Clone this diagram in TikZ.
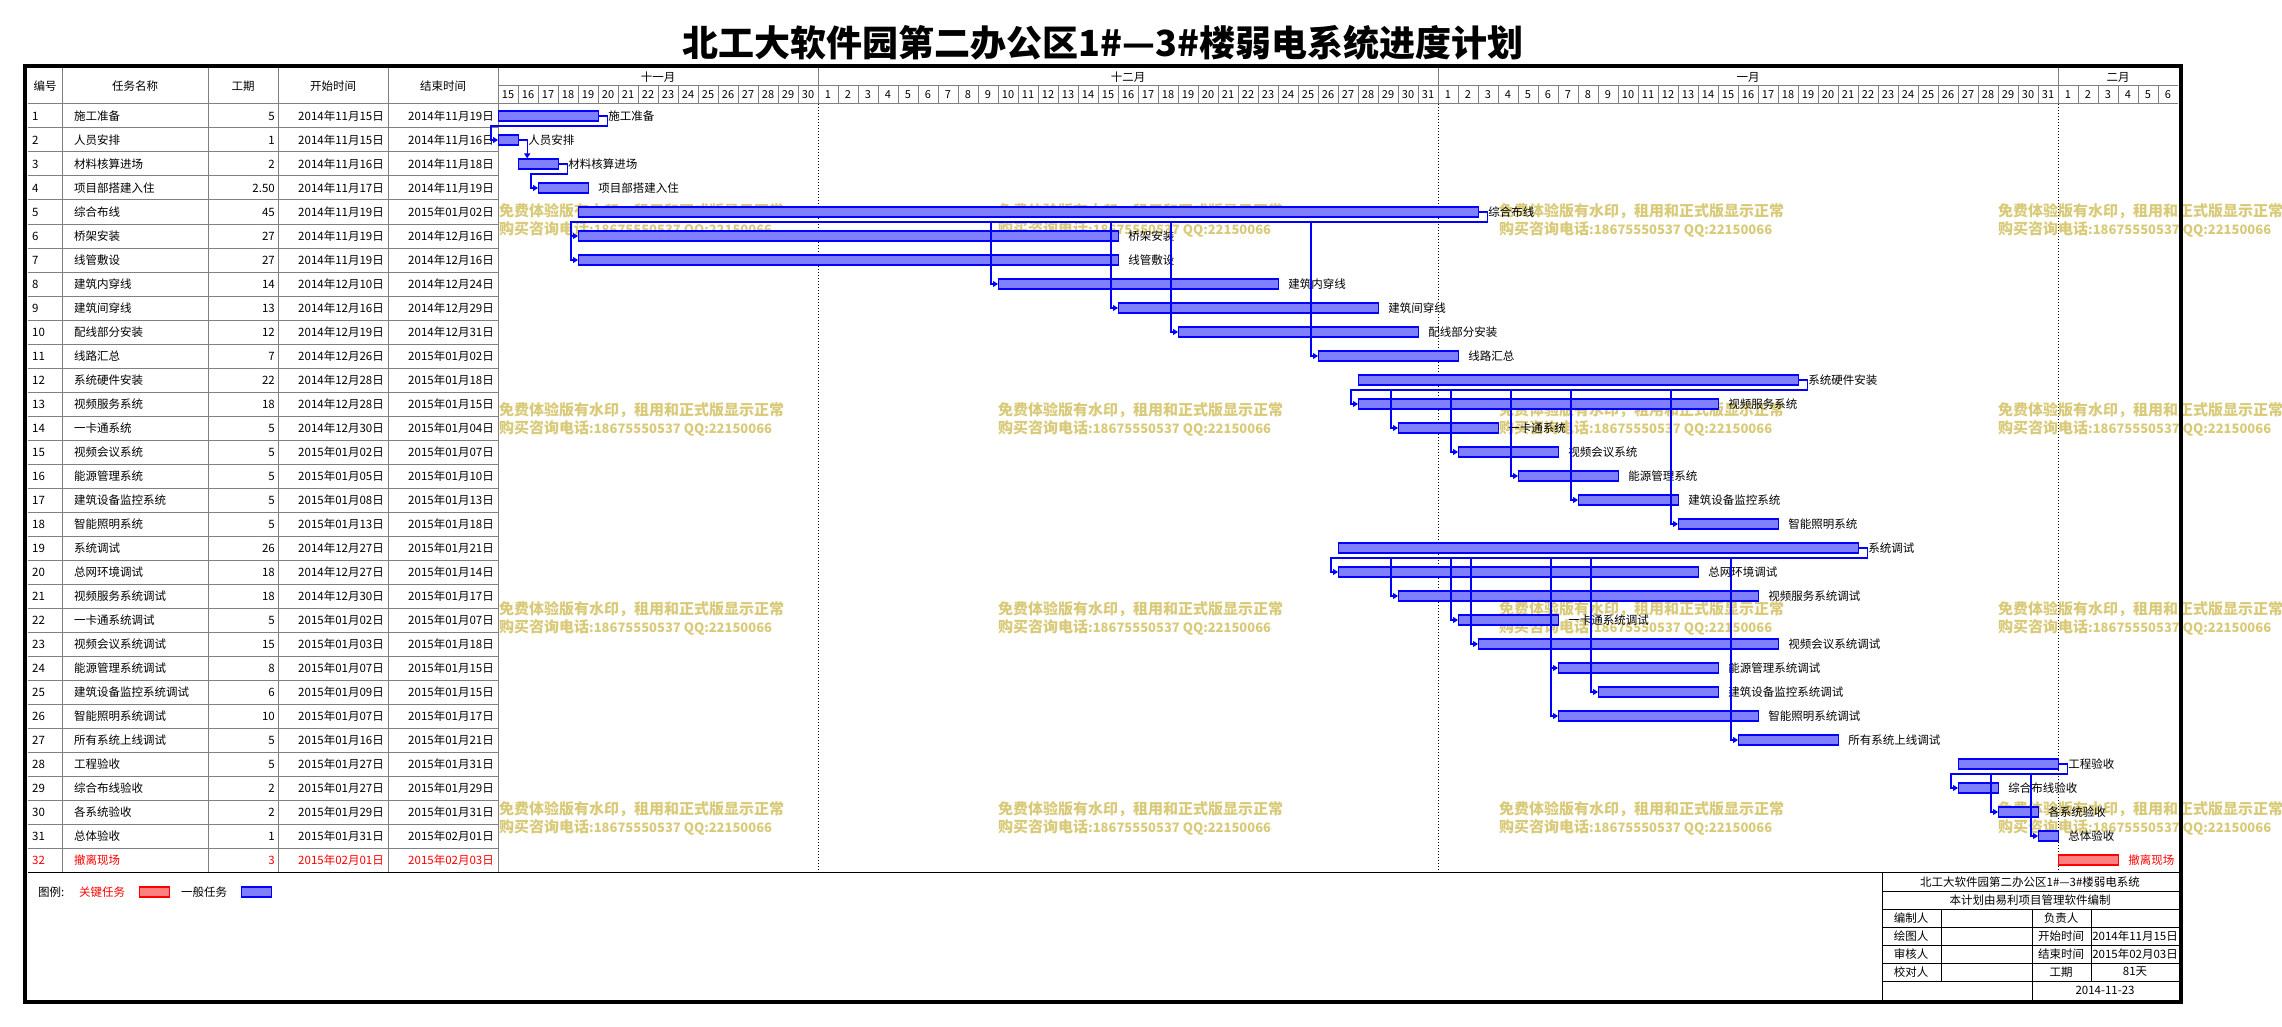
\documentclass[tikz,border=0pt]{standalone}
\usepackage{fontspec}
\setmainfont{Noto Sans CJK SC}
\usetikzlibrary{arrows.meta,calc}

\definecolor{barblue}{RGB}{128,128,255}
\definecolor{barred}{RGB}{255,128,128}
\definecolor{wmark}{RGB}{216,202,120}

\tikzset{
  txt/.style={font=\fontsize{11.5}{13}\selectfont,inner sep=0pt},
  daytxt/.style={font=\fontsize{11}{12}\selectfont,inner sep=0pt},
  wmtxt/.style={font=\fontsize{15}{16}\selectfont\bfseries,text=wmark,inner sep=0pt,anchor=west},
  taskbar/.style={draw=blue,line width=1.2pt,fill=barblue,minimum height=10pt,inner sep=0pt,anchor=west},
  keybar/.style={taskbar,draw=red,fill=barred},
  dep/.style={draw=blue,line width=1.2pt},
  deparrow/.style={dep,-{Triangle[length=5pt,width=6pt]}},
  rowline/.style={draw=gray,line width=1pt},
  monthline/.style={line width=1pt,dash pattern=on 1pt off 2pt},
}

\begin{document}
\begin{tikzpicture}[x=1pt,y=-1pt]
\useasboundingbox (0,0) rectangle (2282,1027);

% Title
\node[font=\fontsize{36}{40}\selectfont\bfseries,inner sep=0pt] (title) at (1103,43) {北工大软件园第二办公区1\#—3\#楼弱电系统进度计划};

% Watermarks
\foreach \wx in {499,998,1499,1998}
  \foreach \wy in {211,410,609,809} {
    \node[wmtxt] (wm-\wx-\wy-a) at (\wx,\wy) {免费体验版有水印，租用和正式版显示正常};
    \node[wmtxt] (wm-\wx-\wy-b) at (\wx,\wy+18) {购买咨询电话{\fontsize{13}{14}\selectfont:18675550537 QQ:22150066}};
  }

% Table header
\foreach \x in {62,208,278,388,498}
  \draw[rowline] (\x,68) -- (\x,872);
\draw[rowline] (28,104) -- (2178,104);
\draw[rowline] (498,86) -- (2178,86);
\node[txt] (h-no) at (45,86) {编号};
\node[txt] (h-name) at (135,86) {任务名称};
\node[txt] (h-dur) at (243,86) {工期};
\node[txt] (h-start) at (333,86) {开始时间};
\node[txt] (h-end) at (443,86) {结束时间};

% Months and days
\node[txt] (m11) at (658,77) {十一月};
\node[txt] (m12) at (1128,77) {十二月};
\node[txt] (m1) at (1748,77) {一月};
\node[txt] (m2) at (2118,77) {二月};
\foreach \x in {818,1438,2058} {
  \draw[rowline] (\x,68) -- (\x,86);
  \draw[monthline] (\x,104) -- (\x,872);
}
\foreach \x/\first/\last in {498/15/30,818/1/31,1438/1/31,2058/1/6}
  \foreach \dd in {\first,...,\last} {
    \draw[rowline] (\x+20*\dd-20*\first,86) -- ++(0,18);
    \node[daytxt] (d-\x-\dd) at (\x+20*\dd-20*\first+10,95) {\dd};
  }

% Tasks
\foreach \i/\nm/\du/\st/\en/\s/\d in {
  1/施工准备/5/2014年11月15日/2014年11月19日/0/5,
  2/人员安排/1/2014年11月15日/2014年11月16日/0/1,
  3/材料核算进场/2/2014年11月16日/2014年11月18日/1/2,
  4/项目部搭建入住/2.50/2014年11月17日/2014年11月19日/2/2.5,
  5/综合布线/45/2014年11月19日/2015年01月02日/4/45,
  6/桥架安装/27/2014年11月19日/2014年12月16日/4/27,
  7/线管敷设/27/2014年11月19日/2014年12月16日/4/27,
  8/建筑内穿线/14/2014年12月10日/2014年12月24日/25/14,
  9/建筑间穿线/13/2014年12月16日/2014年12月29日/31/13,
  10/配线部分安装/12/2014年12月19日/2014年12月31日/34/12,
  11/线路汇总/7/2014年12月26日/2015年01月02日/41/7,
  12/系统硬件安装/22/2014年12月28日/2015年01月18日/43/22,
  13/视频服务系统/18/2014年12月28日/2015年01月15日/43/18,
  14/一卡通系统/5/2014年12月30日/2015年01月04日/45/5,
  15/视频会议系统/5/2015年01月02日/2015年01月07日/48/5,
  16/能源管理系统/5/2015年01月05日/2015年01月10日/51/5,
  17/建筑设备监控系统/5/2015年01月08日/2015年01月13日/54/5,
  18/智能照明系统/5/2015年01月13日/2015年01月18日/59/5,
  19/系统调试/26/2014年12月27日/2015年01月21日/42/26,
  20/总网环境调试/18/2014年12月27日/2015年01月14日/42/18,
  21/视频服务系统调试/18/2014年12月30日/2015年01月17日/45/18,
  22/一卡通系统调试/5/2015年01月02日/2015年01月07日/48/5,
  23/视频会议系统调试/15/2015年01月03日/2015年01月18日/49/15,
  24/能源管理系统调试/8/2015年01月07日/2015年01月15日/53/8,
  25/建筑设备监控系统调试/6/2015年01月09日/2015年01月15日/55/6,
  26/智能照明系统调试/10/2015年01月07日/2015年01月17日/53/10,
  27/所有系统上线调试/5/2015年01月16日/2015年01月21日/62/5,
  28/工程验收/5/2015年01月27日/2015年01月31日/73/5,
  29/综合布线验收/2/2015年01月27日/2015年01月29日/73/2,
  30/各系统验收/2/2015年01月29日/2015年01月31日/75/2,
  31/总体验收/1/2015年01月31日/2015年02月01日/77/1} {
  \draw[rowline] (28,104+24*\i) -- (498,104+24*\i);
  \node[txt,anchor=west] (no\i) at (32,92+24*\i) {\i};
  \node[txt,anchor=west] (nm\i) at (74,92+24*\i) {\nm};
  \node[txt,anchor=east] (du\i) at (275,92+24*\i) {\du};
  \node[txt,anchor=east] (st\i) at (384,92+24*\i) {\st};
  \node[txt,anchor=east] (en\i) at (494,92+24*\i) {\en};
  \node[taskbar,minimum width=\d*20pt] (b\i) at (498+20*\s,92+24*\i) {};
  \node[txt,anchor=west] (lb\i) at ($(b\i.east)+(9,0)$) {\nm};
}

% Key task
\node[txt,anchor=west,text=red] (no32) at (32,860) {32};
\node[txt,anchor=west,text=red] (nm32) at (74,860) {撤离现场};
\node[txt,anchor=east,text=red] (du32) at (275,860) {3};
\node[txt,anchor=east,text=red] (st32) at (384,860) {2015年02月01日};
\node[txt,anchor=east,text=red] (en32) at (494,860) {2015年02月03日};
\node[keybar,minimum width=60pt] (b32) at (2058,860) {};
\node[txt,anchor=west,text=red] (lb32) at ($(b32.east)+(9,0)$) {撤离现场};

% Links
\draw[deparrow] (b1.east) -- ++(8,0) -- ++(0,10) -| ($(b2.west)+(-7,0)$) -- (b2.west);
\draw[deparrow] (b2.east) -- ++(8,0) coordinate (c23) -- (c23 |- b3.north);
\draw[deparrow] (b3.east) -- ++(8,0) -- ++(0,10) -| ($(b4.west)+(-7,0)$) -- (b4.west);

\draw[deparrow] (b5.east) -- ++(8,0) -- ++(0,10) coordinate (u5) -| ($(b6.west)+(-7,0)$) -- (b6.west);
\foreach \j in {7,...,11}
  \draw[deparrow] ($(u5 -| b\j.west)+(-7,0)$) |- (b\j.west);

\draw[deparrow] (b12.east) -- ++(8,0) -- ++(0,10) coordinate (u12) -| ($(b13.west)+(-7,0)$) -- (b13.west);
\foreach \j in {14,...,18}
  \draw[deparrow] ($(u12 -| b\j.west)+(-7,0)$) |- (b\j.west);

\draw[deparrow] (b19.east) -- ++(8,0) -- ++(0,10) coordinate (u19) -| ($(b20.west)+(-7,0)$) -- (b20.west);
\foreach \j in {21,...,27}
  \draw[deparrow] ($(u19 -| b\j.west)+(-7,0)$) |- (b\j.west);

\draw[deparrow] (b28.east) -- ++(8,0) -- ++(0,10) coordinate (u28) -| ($(b29.west)+(-7,0)$) -- (b29.west);
\foreach \j in {30,31}
  \draw[deparrow] ($(u28 -| b\j.west)+(-7,0)$) |- (b\j.west);

% Legend
\draw[line width=1pt] (28,872) -- (2178,872);
\node[txt,anchor=west] (lg) at (38,892) {图例:};
\node[txt,anchor=west,text=red] (lg-key) at (79,892) {关键任务};
\node[keybar,minimum width=30pt] (lg-kbar) at (139,892) {};
\node[txt,anchor=west] (lg-norm) at (181,892) {一般任务};
\node[taskbar,minimum width=30pt] (lg-nbar) at (241,892) {};

% Title block
\draw[line width=1pt] (1882,872) rectangle (2179,1000);
\foreach \y in {891,909,927,945,963,981}
  \draw[line width=1pt] (1882,\y) -- (2179,\y);
\draw[line width=1pt] (1941,909) -- (1941,981);
\draw[line width=1pt] (2032,909) -- (2032,1000);
\draw[line width=1pt] (2091,909) -- (2091,981);
\node[txt] (tb1) at (2030,882) {北工大软件园第二办公区1\#—3\#楼弱电系统};
\node[txt] (tb2) at (2030,900) {本计划由易利项目管理软件编制};
\node[txt] (tb-a) at (1911,918) {编制人};
\node[txt] (tb-b) at (1911,936) {绘图人};
\node[txt] (tb-c) at (1911,954) {审核人};
\node[txt] (tb-d) at (1911,972) {校对人};
\node[txt] (tb-e) at (2061,918) {负责人};
\node[txt] (tb-f) at (2061,936) {开始时间};
\node[txt] (tb-g) at (2061,954) {结束时间};
\node[txt] (tb-h) at (2061,972) {工期};
\node[txt] (tb-i) at (2135,936) {2014年11月15日};
\node[txt] (tb-j) at (2135,954) {2015年02月03日};
\node[txt] (tb-k) at (2135,972) {81天};
\node[txt] (tb-l) at (2105,990) {2014-11-23};

% Frame
\draw[line width=4pt] (25,66) rectangle (2181,1002);
\end{tikzpicture}
\end{document}
